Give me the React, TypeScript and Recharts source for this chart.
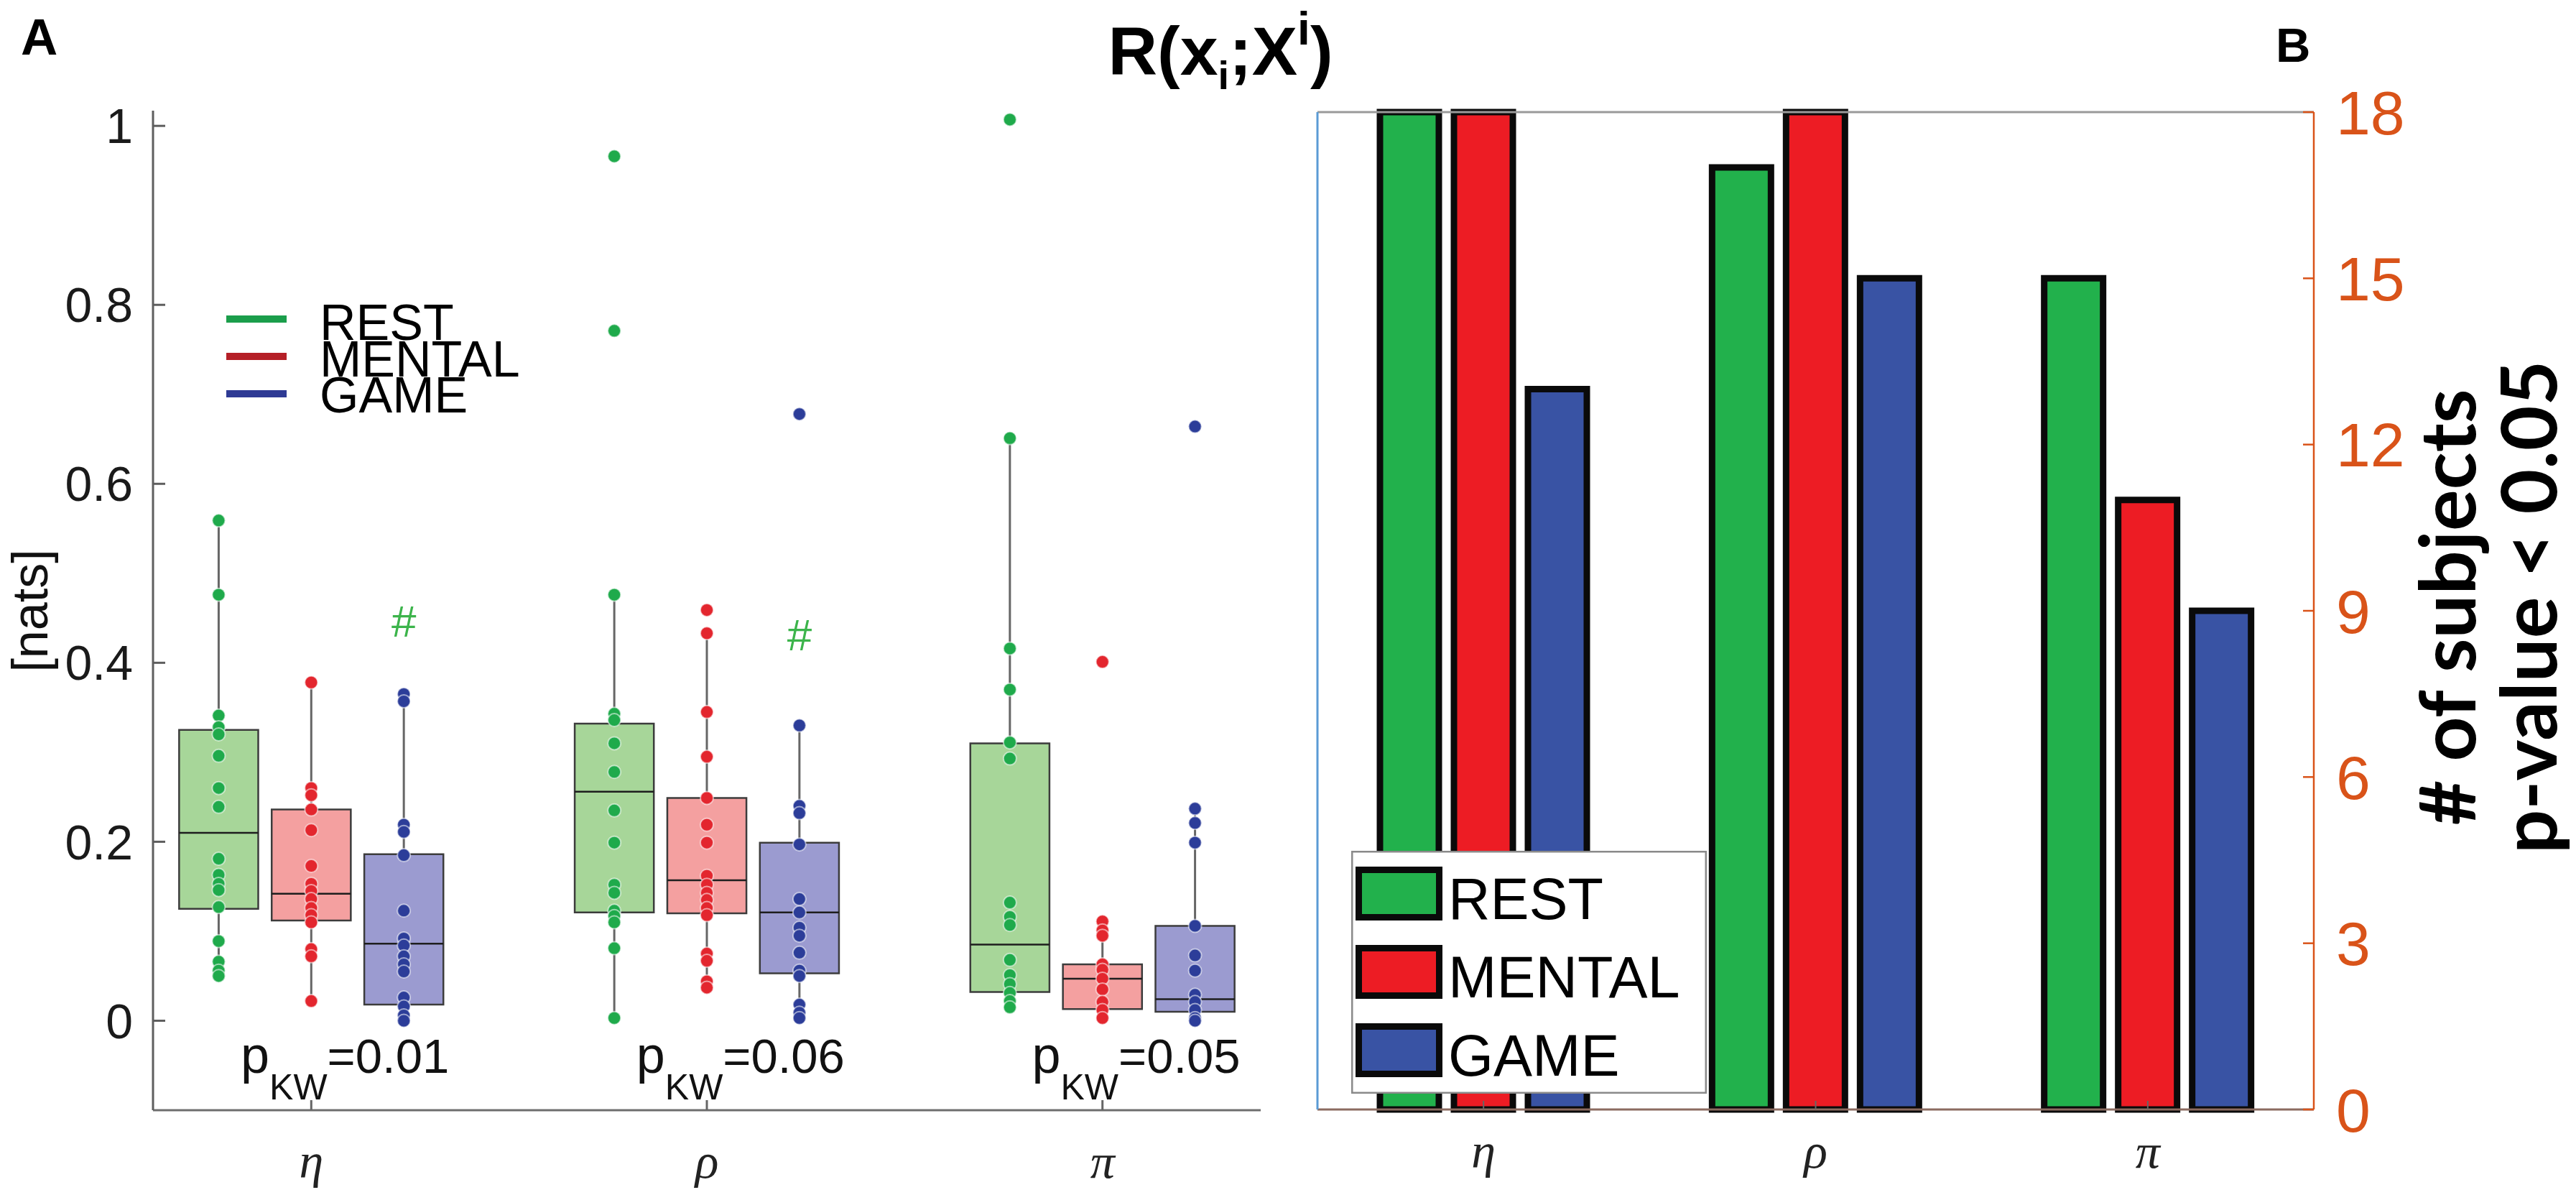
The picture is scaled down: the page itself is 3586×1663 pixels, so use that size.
import {
  Bar,
  BarChart,
  ComposedChart,
  Legend,
  ReferenceArea,
  ReferenceLine,
  Scatter,
  XAxis,
  YAxis,
} from 'recharts';

const W = 3586;
const H = 1663;
const SANS = '"Liberation Sans", Arial, sans-serif';
const SERIF = '"Liberation Serif", "Times New Roman", serif';

const features = ['η', 'ρ', 'π'];
const conditions = ['REST', 'MENTAL', 'GAME'];

// box stats per feature: [whisker low, q1, median, q3, whisker high]
const restBoxes = [
  [0.05, 0.125, 0.21, 0.325, 0.559],
  [0.003, 0.121, 0.256, 0.332, 0.476],
  [0.015, 0.032, 0.085, 0.31, 0.651],
];
const mentalBoxes = [
  [0.022, 0.112, 0.142, 0.236, 0.378],
  [0.037, 0.12, 0.157, 0.249, 0.433],
  [0.003, 0.013, 0.047, 0.063, 0.111],
];
const gameBoxes = [
  [0.0, 0.018, 0.086, 0.186, 0.363],
  [0.003, 0.053, 0.121, 0.199, 0.33],
  [0.0, 0.01, 0.024, 0.106, 0.237],
];

// subject values (nats)
const restEta = [0.559, 0.476, 0.341, 0.328, 0.32, 0.296, 0.26, 0.239, 0.181, 0.163, 0.153, 0.146, 0.127, 0.089, 0.066, 0.056, 0.05];
const restRho = [0.966, 0.771, 0.476, 0.343, 0.336, 0.31, 0.278, 0.235, 0.199, 0.152, 0.143, 0.123, 0.117, 0.11, 0.081, 0.003];
const restPi = [1.007, 0.651, 0.416, 0.37, 0.311, 0.293, 0.132, 0.116, 0.107, 0.068, 0.051, 0.041, 0.031, 0.022, 0.015];
const mentalEta = [0.378, 0.26, 0.252, 0.236, 0.213, 0.173, 0.153, 0.145, 0.136, 0.126, 0.118, 0.11, 0.08, 0.072, 0.022];
const mentalRho = [0.459, 0.433, 0.345, 0.295, 0.249, 0.219, 0.199, 0.162, 0.152, 0.143, 0.135, 0.126, 0.118, 0.075, 0.067, 0.044, 0.037];
const mentalPi = [0.401, 0.111, 0.101, 0.095, 0.063, 0.057, 0.047, 0.035, 0.021, 0.012, 0.003];
const gameEta = [0.365, 0.357, 0.219, 0.211, 0.185, 0.123, 0.092, 0.084, 0.072, 0.063, 0.055, 0.026, 0.016, 0.006, 0.0];
const gameRho = [0.678, 0.33, 0.24, 0.232, 0.197, 0.136, 0.121, 0.104, 0.095, 0.076, 0.056, 0.05, 0.018, 0.009, 0.003];
const gamePi = [0.664, 0.237, 0.221, 0.199, 0.106, 0.073, 0.056, 0.029, 0.021, 0.012, 0.003, 0.0];

const pValues = ['0.01', '0.06', '0.05'];
// '#' marks above GAME boxes (feature index, height)
const hashFeatures = [0, 1];
const hashHeights = [0.429, 0.414];

// panel B: # of subjects with p-value < 0.05
const restCount = [18, 17, 15];
const mentalCount = [18, 18, 11];
const gameCount = [13, 15, 9];

const yTicksA = [0, 0.2, 0.4, 0.6, 0.8, 1];
const yTicksB = [0, 3, 6, 9, 12, 15, 18];

const boxStats = [restBoxes, mentalBoxes, gameBoxes];
const points = [
  [restEta, restRho, restPi],
  [mentalEta, mentalRho, mentalPi],
  [gameEta, gameRho, gamePi],
];
const dotColors = ['#1faa4b', '#e3262e', '#2c3d99'];
const boxFills = ['#a7d699', '#f4a0a0', '#9b9bd0'];
const legendLineColors = ['#1b9e4b', '#b51f27', '#2e3a94'];
const barColors = ['#22b14c', '#ed1c24', '#3953a4'];

const offsets = [-0.234, 0, 0.234];
const BOX_HALF = 0.1;

const scatterData = conditions.map((_, ci) =>
  features.flatMap((_f, fi) => points[ci][fi].map((y) => ({ x: fi + 1 + offsets[ci], y }))),
);
const pLabelData = features.map((_f, fi) => ({ x: fi + 1.085, y: -0.058, p: pValues[fi] }));
const hashData = hashFeatures.map((fi, i) => ({ x: fi + 1 + offsets[2], y: hashHeights[i] }));

const barData = features.map((f, i) => ({
  feature: f,
  REST: restCount[i],
  MENTAL: mentalCount[i],
  GAME: gameCount[i],
}));

function Dot(color: string) {
  return (props: any) => (
    <circle
      cx={props.cx}
      cy={props.cy}
      r={9}
      fill={color}
      stroke="#ffffff"
      strokeOpacity={0.55}
      strokeWidth={2}
    />
  );
}

function PLabel(props: any) {
  return (
    <text x={props.cx} y={props.cy} textAnchor="middle" fontFamily={SANS} fill="#111">
      <tspan fontSize={72}>p</tspan>
      <tspan fontSize={50} dy={37}>KW</tspan>
      <tspan fontSize={67} dy={-37}>={props.payload.p}</tspan>
    </text>
  );
}

function HashMark(props: any) {
  return (
    <text x={props.cx} y={props.cy} textAnchor="middle" fontFamily={SANS} fontSize={62} fill="#3cb44b">
      #
    </text>
  );
}

function FeatureTickA(props: any) {
  return (
    <text x={props.x} y={props.y} textAnchor="middle" fontFamily={SERIF} fontStyle="italic" fontSize={68} fill="#222">
      {features[props.payload.value - 1]}
    </text>
  );
}

function FeatureTickB(props: any) {
  return (
    <text x={props.x} y={props.y} textAnchor="middle" fontFamily={SERIF} fontStyle="italic" fontSize={68} fill="#222">
      {props.payload.value}
    </text>
  );
}

// keep legend rows in condition order (REST, MENTAL, GAME)
function orderedItems(payload: any[] | undefined) {
  return (payload || [])
    .filter((e: any) => conditions.includes(e.value))
    .sort((a: any, b: any) => conditions.indexOf(a.value) - conditions.indexOf(b.value));
}

function BoxLegend(props: any) {
  const items = orderedItems(props.payload);
  return (
    <svg width={600} height={200}>
      {items.map((entry: any, i: number) => {
        const ci = conditions.indexOf(entry.value);
        return (
          <g key={entry.value}>
            <line x1={15} x2={99} y1={44 + i * 52} y2={44 + i * 52} stroke={legendLineColors[ci]} strokeWidth={10} />
            <text x={145} y={73 + i * 50.5} fontFamily={SANS} fontSize={70} fill="#000">
              {entry.value}
            </text>
          </g>
        );
      })}
    </svg>
  );
}

function BarLegend(props: any) {
  const items = orderedItems(props.payload);
  return (
    <svg width={495} height={338}>
      <rect x={1.25} y={1.25} width={492.5} height={335.5} fill="#ffffff" stroke="#8a8a8a" strokeWidth={2.5} />
      {items.map((entry: any, i: number) => {
        const ci = conditions.indexOf(entry.value);
        return (
          <g key={entry.value}>
            <rect
              x={10.5}
              y={26.5 + i * 109}
              width={112}
              height={66}
              fill={barColors[ci]}
              stroke="#0a0a0a"
              strokeWidth={9}
            />
            <text x={135} y={95 + i * 109} fontFamily={SANS} fontSize={81} fill="#000">
              {entry.value}
            </text>
          </g>
        );
      })}
    </svg>
  );
}

function BoxPanel() {
  const boxes = conditions.flatMap((c, ci) =>
    features.map((_f, fi) => {
      const [lo, q1, med, q3, hi] = boxStats[ci][fi];
      const xc = fi + 1 + offsets[ci];
      return [
        <ReferenceLine
          key={`wl-${c}-${fi}`}
          segment={[{ x: xc, y: lo }, { x: xc, y: q1 }]}
          stroke="#666"
          strokeWidth={3}
        />,
        <ReferenceLine
          key={`wh-${c}-${fi}`}
          segment={[{ x: xc, y: q3 }, { x: xc, y: hi }]}
          stroke="#666"
          strokeWidth={3}
        />,
        <ReferenceArea
          key={`box-${c}-${fi}`}
          x1={xc - BOX_HALF}
          x2={xc + BOX_HALF}
          y1={q1}
          y2={q3}
          fill={boxFills[ci]}
          fillOpacity={1}
          stroke="#3c3c3c"
          strokeWidth={2.5}
        />,
        <ReferenceLine
          key={`med-${c}-${fi}`}
          segment={[{ x: xc - BOX_HALF, y: med }, { x: xc + BOX_HALF, y: med }]}
          stroke="#1e1e1e"
          strokeWidth={2.5}
        />,
      ];
    }),
  );

  return (
    <ComposedChart width={1800} height={H} margin={{ top: 154, right: 45, bottom: 0, left: 0 }}>
      <XAxis
        type="number"
        dataKey="x"
        domain={[0.6, 3.4]}
        ticks={[1, 2, 3]}
        allowDataOverflow
        height={118}
        axisLine={{ stroke: '#6e6e6e', strokeWidth: 3 }}
        tickLine={{ stroke: '#666', strokeWidth: 3 }}
        tickSize={-14}
        tickMargin={108}
        tick={FeatureTickA}
      />
      <YAxis
        type="number"
        dataKey="y"
        domain={[-0.1, 1.017]}
        ticks={yTicksA}
        allowDataOverflow
        width={213}
        axisLine={{ stroke: '#5e5e5e', strokeWidth: 3 }}
        tickLine={{ stroke: '#5e5e5e', strokeWidth: 3 }}
        tickSize={-17}
        tickMargin={45}
        tick={{ fontSize: 68, fill: '#1a1a1a', fontFamily: SANS }}
      />
      {boxes}
      {conditions.map((c, ci) => (
        <Scatter
          key={c}
          name={c}
          data={scatterData[ci]}
          fill={dotColors[ci]}
          shape={Dot(dotColors[ci])}
          isAnimationActive={false}
        />
      ))}
      <Scatter name="pKW" data={pLabelData} shape={PLabel} legendType="none" isAnimationActive={false} />
      <Scatter name="hash" data={hashData} shape={HashMark} legendType="none" isAnimationActive={false} />
      <Legend
        content={BoxLegend}
        layout="vertical"
        align="center"
        verticalAlign="middle"
        wrapperStyle={{ left: 300, top: 400, width: 600, height: 200 }}
      />
    </ComposedChart>
  );
}

function CountPanel() {
  return (
    <BarChart
      width={1886}
      height={H}
      data={barData}
      margin={{ top: 155, right: 0, bottom: 0, left: 0 }}
      barSize={82}
      barGap={21}
    >
      <XAxis
        dataKey="feature"
        height={119}
        axisLine={{ stroke: '#8b6b60', strokeWidth: 3 }}
        tickLine={{ stroke: '#666', strokeWidth: 2 }}
        tickSize={-12}
        tickMargin={93}
        tick={FeatureTickB}
      />
      <XAxis
        xAxisId="top"
        orientation="top"
        dataKey="feature"
        height={1}
        tick={false}
        tickSize={-12}
        axisLine={{ stroke: '#9a9a9a', strokeWidth: 3 }}
        tickLine={{ stroke: '#888', strokeWidth: 2 }}
      />
      <YAxis
        yAxisId="left"
        width={134}
        domain={[0, 1]}
        ticks={[0, 0.2, 0.4, 0.6, 0.8, 1]}
        tick={false}
        tickSize={-14}
        axisLine={{ stroke: '#5b9bd5', strokeWidth: 3 }}
        tickLine={{ stroke: '#5b9bd5', strokeWidth: 3 }}
      />
      <YAxis
        yAxisId="right"
        orientation="right"
        width={365}
        domain={[0, 18]}
        ticks={yTicksB}
        tickSize={-15}
        tickMargin={46}
        axisLine={{ stroke: '#d95319', strokeWidth: 2.5 }}
        tickLine={{ stroke: '#d95319', strokeWidth: 2.5 }}
        tick={{ fontSize: 86, fill: '#d95319', fontFamily: SANS }}
      />
      {conditions.map((c, ci) => (
        <Bar
          key={c}
          yAxisId="right"
          dataKey={c}
          name={c}
          fill={barColors[ci]}
          stroke="#0a0a0a"
          strokeWidth={9}
          isAnimationActive={false}
        />
      ))}
      <Legend
        content={BarLegend}
        layout="vertical"
        align="center"
        verticalAlign="middle"
        wrapperStyle={{ left: 181, top: 1184, width: 495, height: 338 }}
      />
    </BarChart>
  );
}

export default function App() {
  return (
    <div style={{ position: 'relative', width: W, height: H, background: '#fff', overflow: 'hidden' }}>
      <style>{'body{margin:0}'}</style>
      <div style={{ position: 'absolute', left: 0, top: 0 }}>
        <BoxPanel />
      </div>
      <div style={{ position: 'absolute', left: 1700, top: 0 }}>
        <CountPanel />
      </div>
      <svg
        width={W}
        height={H}
        style={{ position: 'absolute', left: 0, top: 0, pointerEvents: 'none' }}
      >
        <text x={29} y={76} fontFamily={SANS} fontWeight="bold" fontSize={71} fill="#000">
          A
        </text>
        <text x={3168} y={86} fontFamily={SANS} fontWeight="bold" fontSize={67} fill="#000">
          B
        </text>
        <text x={1699} y={104} textAnchor="middle" fontFamily={SANS} fontWeight="bold" fontSize={95} fill="#000">
          R(x
          <tspan fontSize={56} dy={20}>i</tspan>
          <tspan dy={-20}>;X</tspan>
          <tspan fontSize={64} dy={-42}>i</tspan>
          <tspan dy={42}>)</tspan>
        </text>
        <text
          transform="translate(66,850) rotate(-90)"
          textAnchor="middle"
          fontFamily={SANS}
          fontSize={70}
          fill="#111"
        >
          [nats]
        </text>
        <text
          transform="translate(3446,845) rotate(-90)"
          textAnchor="middle"
          fontFamily='Lato, "Open Sans", sans-serif'
          fontWeight="bold"
          fontSize={108}
          fill="#000"
        >
          # of subjects
        </text>
        <text
          transform="translate(3559,845) rotate(-90)"
          textAnchor="middle"
          fontFamily='Lato, "Open Sans", sans-serif'
          fontWeight="bold"
          fontSize={108}
          fill="#000"
        >
          p-value &lt; 0.05
        </text>
      </svg>
    </div>
  );
}
